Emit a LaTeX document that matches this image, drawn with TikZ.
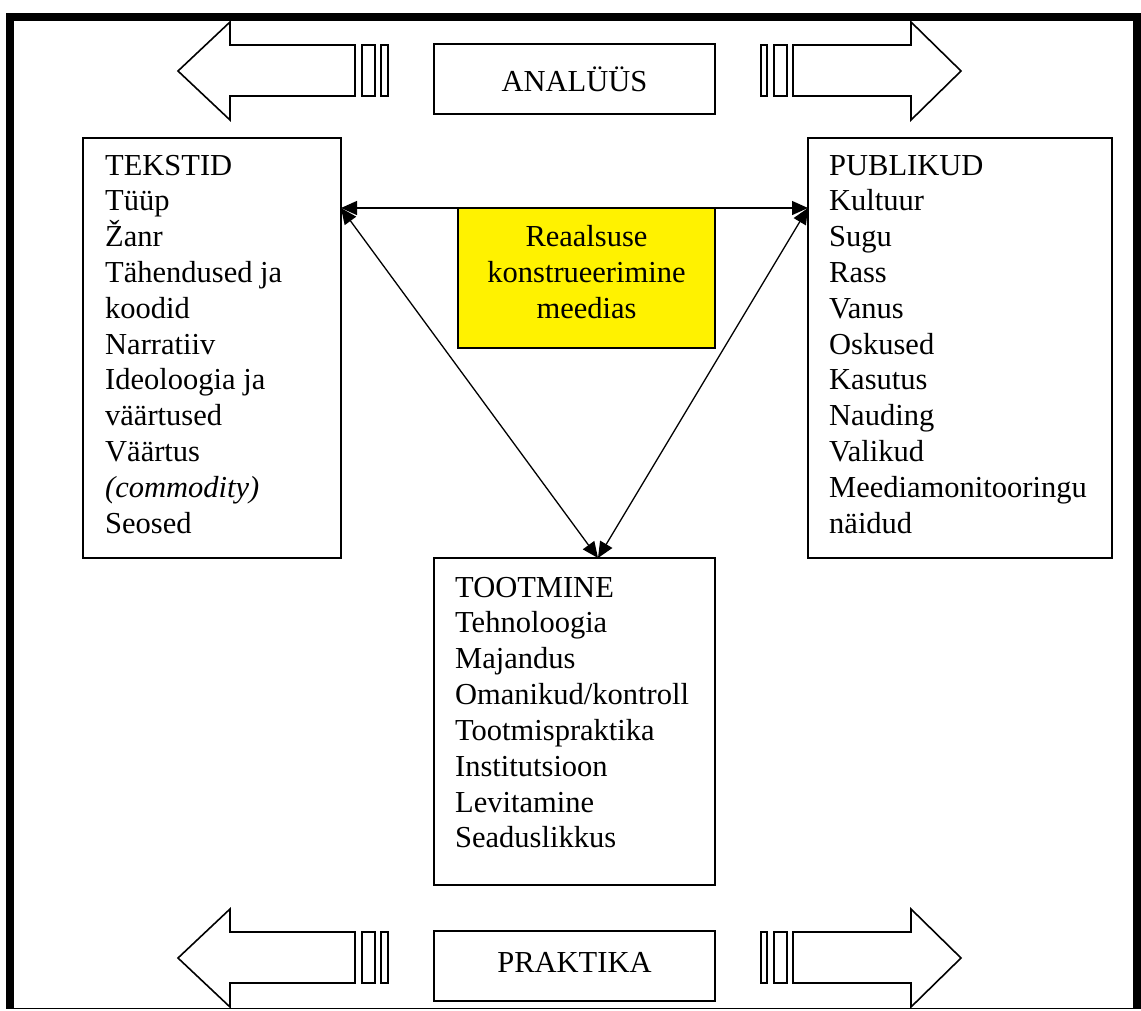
\documentclass[tikz,border=0pt]{standalone}
\usepackage{fontspec}
\setmainfont{Liberation Serif}
\usetikzlibrary{arrows.meta,calc}
\tikzset{
  boxed/.style={draw=black, line width=2pt, inner sep=0pt, outer sep=0pt, anchor=north west},
  lst/.style={font=\fontsize{30.5}{36}\selectfont, inner sep=0pt, anchor=base west},
  ctr/.style={font=\fontsize{30.5}{36}\selectfont, inner sep=0pt, anchor=base},
  blockarrow/.style={draw=black, line width=1.6pt, fill=white, line join=miter},
  bar/.style={draw=black, line width=1.6pt, fill=white},
  conn/.style={draw=black, line width=1.3pt,
     {Triangle[length=16pt,width=14pt]}-{Triangle[length=16pt,width=14pt]}}
}
\begin{document}
\begin{tikzpicture}[x=1pt,y=-1pt]
\useasboundingbox (0,0) rectangle (1141,1010);
\fill[white] (0,0) rectangle (1141,1010);
% outer frame
\draw[line width=8pt, line join=miter] (10,1008) -- (10,16.5) -- (1137,16.5) -- (1137,1008);
\draw[line width=1.5pt] (6,1008.5) -- (1141,1008.5);

% top block arrows
\path[blockarrow] (178,71) -- (230,22) -- (230,45) -- (355,45) -- (355,96) -- (230,96) -- (230,120) -- cycle;
\path[bar] (362,45) rectangle (375,96);
\path[bar] (381,45) rectangle (388,96);
\path[blockarrow] (961,71) -- (911,22) -- (911,45) -- (793,45) -- (793,96) -- (911,96) -- (911,120) -- cycle;
\path[bar] (761,45) rectangle (767,96);
\path[bar] (774,45) rectangle (787,96);
\node[boxed, minimum width=281pt, minimum height=70pt] (ana) at (434,44) {};
\node[ctr] (anat) at (574.5,91) {ANALÜÜS};

% bottom block arrows
\begin{scope}[yshift=-887pt]
\path[blockarrow] (178,71) -- (230,22) -- (230,45) -- (355,45) -- (355,96) -- (230,96) -- (230,120) -- cycle;
\path[bar] (362,45) rectangle (375,96);
\path[bar] (381,45) rectangle (388,96);
\path[blockarrow] (961,71) -- (911,22) -- (911,45) -- (793,45) -- (793,96) -- (911,96) -- (911,120) -- cycle;
\path[bar] (761,45) rectangle (767,96);
\path[bar] (774,45) rectangle (787,96);
\end{scope}
\node[boxed, minimum width=281pt, minimum height=70pt] (pra) at (434,931) {};
\node[ctr] (prat) at (574.5,972) {PRAKTIKA};

% main boxes
\node[boxed, minimum width=258pt, minimum height=420pt] (tek) at (83,138) {};
\node[boxed, minimum width=304pt, minimum height=420pt] (pub) at (808,138) {};
\node[boxed, minimum width=281pt, minimum height=327pt] (toot) at (434,558) {};
\node[boxed, fill=yellow, minimum width=257pt, minimum height=140pt] (real) at (458,208) {};

\foreach \t [count=\i] in {TEKSTID, Tüüp, Žanr, Tähendused ja, koodid, Narratiiv, Ideoloogia ja, väärtused, Väärtus, {\itshape (commodity)}, Seosed}
  \node[lst] (tek\i) at ({105},{175+35.8*(\i-1)}) {\t};
\foreach \t [count=\i] in {PUBLIKUD, Kultuur, Sugu, Rass, Vanus, Oskused, Kasutus, Nauding, Valikud, Meediamonitooringu, näidud}
  \node[lst] (pub\i) at ({829},{175+35.8*(\i-1)}) {\t};
\foreach \t [count=\i] in {TOOTMINE, Tehnoloogia, Majandus, Omanikud/kontroll, Tootmispraktika, Institutsioon, Levitamine, Seaduslikkus}
  \node[lst] (toot\i) at ({455},{597+35.85*(\i-1)}) {\t};
\foreach \t [count=\i] in {Reaalsuse, konstrueerimine, meedias}
  \node[ctr] (real\i) at ({586.5},{246+36*(\i-1)}) {\t};

% connectors
\coordinate (tekR) at ($(tek.north east)+(0,70)$);
\coordinate (pubL) at ($(pub.north west)+(0,70)$);
\coordinate (tootT) at ($(toot.north)+(23.5,0)$);
\draw[conn] (tekR) -- (pubL);
\draw[conn] (tekR) -- (tootT);
\draw[conn] (pubL) -- (tootT);
\end{tikzpicture}
\end{document}
